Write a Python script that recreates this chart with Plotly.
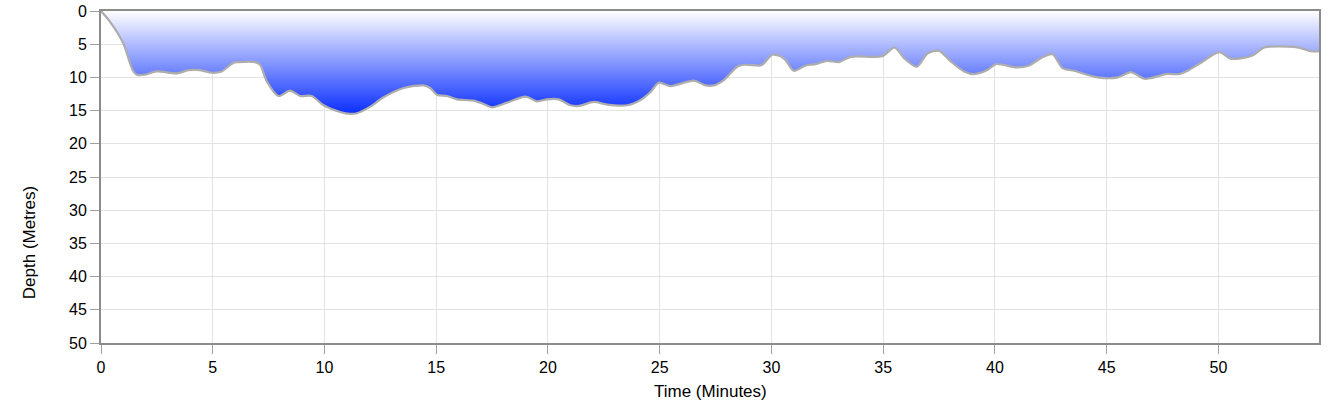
import plotly.graph_objects as go

time_min = [0, 0.4, 1.0, 1.3, 1.45, 1.6, 1.97, 2.49, 3.39, 3.91, 4.43, 4.96, 5.4, 5.93, 6.15, 6.9,
            7.12, 7.42, 7.94, 8.46, 8.91, 9.43, 9.96, 10.7, 11.15, 11.45, 12.05, 12.64, 13.54,
            14.43, 14.73, 15.03, 15.48, 15.93, 16.67, 17.12, 17.5, 18.17, 18.99, 19.51, 19.96,
            20.48, 21.0, 21.38, 22.05, 22.65, 23.54, 24.14, 24.59, 24.96, 25.48, 26.53, 27.05,
            27.42, 27.87, 28.47, 28.76, 29.51, 29.66, 30.04, 30.4, 30.63, 31.0, 31.53, 31.97,
            32.5, 33.02, 33.54, 34.96, 35.51, 35.93, 36.5, 36.98, 37.5, 38.02, 38.62, 39.07,
            39.66, 40.04, 41.0, 41.53, 42.05, 42.57, 43.02, 43.54, 44.59, 45.5, 46.08, 46.68,
            46.98, 47.65, 48.25, 48.62, 49.22, 50.04, 50.56, 51.53, 52.05, 53.39, 53.69, 54.06,
            54.5]
depth_m = [0, 1.6, 4.9, 7.9, 9.1, 9.6, 9.6, 9.1, 9.4, 8.9, 8.9, 9.3, 9.1, 7.8, 7.7, 7.7,
           8.1, 10.6, 12.8, 12.0, 12.8, 12.8, 14.2, 15.2, 15.5, 15.4, 14.4, 13.0, 11.6,
           11.2, 11.6, 12.6, 12.8, 13.3, 13.5, 14.0, 14.5, 13.8, 12.9, 13.6, 13.3,
           13.3, 14.2, 14.3, 13.7, 14.1, 14.2, 13.4, 12.2, 10.8, 11.3, 10.5, 11.2,
           11.2, 10.4, 8.4, 8.1, 8.2, 7.9, 6.6, 6.8, 7.4, 9.0, 8.2, 8.0,
           7.5, 7.7, 6.9, 6.8, 5.5, 7.1, 8.4, 6.4, 6.0, 7.6, 9.1, 9.5,
           8.9, 8.0, 8.5, 8.2, 7.1, 6.5, 8.6, 9.0, 10.0, 10.0, 9.2, 10.2,
           10.1, 9.5, 9.5, 9.0, 7.8, 6.2, 7.2, 6.7, 5.5, 5.4, 5.6, 6.0,
           6.1]

x_ticks = [0, 5, 10, 15, 20, 25, 30, 35, 40, 45, 50]
y_ticks = [0, 5, 10, 15, 20, 25, 30, 35, 40, 45, 50]

FONT = "Liberation Sans, Arial, Helvetica, sans-serif"

fig = go.Figure()
fig.add_trace(go.Scatter(
    x=time_min, y=depth_m, mode="lines",
    line=dict(color="#adadad", width=2.2, shape="spline", smoothing=0.8),
    fill="tozeroy",
    fillgradient=dict(type="vertical", start=0, stop=15.5,
                      colorscale=[[0, "#ffffff"], [1, "#0a2eff"]]),
    hoverinfo="skip", showlegend=False,
))

axis_common = dict(
    showline=True, linecolor="#8c8c8c", linewidth=2, mirror=True,
    ticks="outside", ticklen=9, tickcolor="#a0a0a0", tickwidth=1,
    showgrid=True, gridcolor="#e2e2e2", gridwidth=1, zeroline=False,
    automargin=False,
    tickfont=dict(family=FONT, size=16, color="#000"),
)

fig.update_layout(
    width=1330, height=404,
    margin=dict(l=101, r=11, t=11, b=61),
    paper_bgcolor="white", plot_bgcolor="white",
    font=dict(family=FONT, size=16, color="#000"),
    xaxis=dict(range=[0, 54.5], tickvals=x_ticks, **axis_common),
    yaxis=dict(range=[50, 0], tickvals=y_ticks, **axis_common),
    annotations=[
        dict(text="Time (Minutes)", xref="paper", yref="paper", x=0.5, y=-0.147,
             xanchor="center", yanchor="middle", showarrow=False,
             font=dict(family=FONT, size=17, color="#000")),
        dict(text="Depth (Metres)", xref="paper", yref="paper", x=-0.059, y=0.301,
             xanchor="center", yanchor="middle", showarrow=False, textangle=-90,
             font=dict(family=FONT, size=17, color="#000")),
    ],
)

fig.write_html(
    "out.html",
    config={"displayModeBar": False},
    post_script="document.body.style.margin='0';document.body.style.padding='0';",
)
